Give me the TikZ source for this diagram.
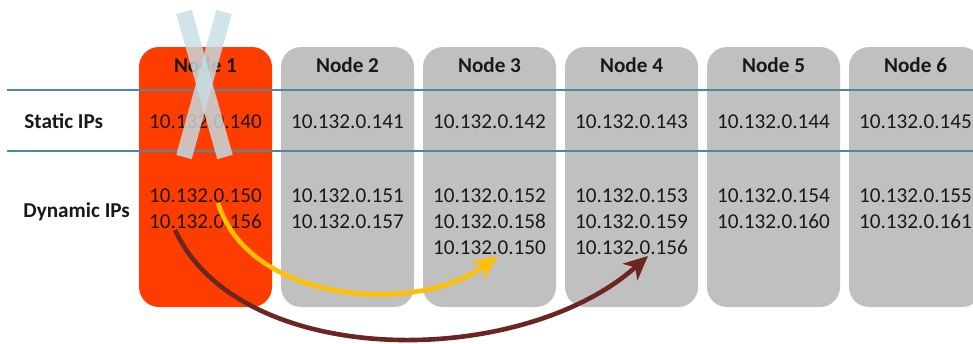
\documentclass[tikz,border=0pt]{standalone}
\usepackage{fontspec}
\setmainfont{Carlito}
\usetikzlibrary{arrows.meta}
\definecolor{boxgray}{HTML}{C0C0C0}
\definecolor{boxred}{HTML}{FF3D00}
\definecolor{rule}{HTML}{4A8AA0}
\definecolor{yel}{HTML}{FFC000}
\definecolor{brn}{HTML}{6B2622}
\definecolor{xmark}{HTML}{C6DEE5}
\tikzset{
  colbox/.style={rounded corners=10pt},
  ip/.style={font=\fontsize{10.6pt}{12.5pt}\selectfont, text=black!90, inner sep=0pt, anchor=base},
  head/.style={font=\bfseries\fontsize{10.6pt}{12.5pt}\selectfont, text=black!90, inner sep=0pt, anchor=base},
  rowlabel/.style={font=\bfseries\fontsize{10.6pt}{12.5pt}\selectfont, text=black!90, inner sep=0pt, anchor=base west},
  hline/.style={draw=rule, line width=1pt},
  movearrow/.style={line width=2.3pt, -{Stealth[length=12pt,width=11pt,inset=3.5pt,fill=#1]}, draw=#1},
  xstroke/.style={draw=xmark, line width=8pt, opacity=0.82}
}
\begin{document}
\begin{tikzpicture}[x=0.5pt,y=-0.5pt]
\useasboundingbox (0,0) rectangle (973,343);
\clip (0,0) rectangle (973,343);
% boxes
\fill[boxred,colbox] (139,47) rectangle (272,307);
\foreach \i in {1,...,5}{
  \fill[boxgray,colbox] ({139+142*\i},47) rectangle ({272+142*\i},307);
}
% rules
\draw[hline] (7,90) -- (973,90);
\draw[hline] (7,151) -- (973,151);
% row labels
\node[rowlabel] (lstat) at (24,128) {Static IPs};
\node[rowlabel] (ldyn) at (23,217) {Dynamic IPs};
% headers
\foreach \i in {1,...,6}{
  \node[head] (h\i) at ({205.5+142*(\i-1)},72) {Node \i};
}
% static
\foreach \i/\s in {1/140,2/141,3/142,4/143,5/144,6/145}{
  \node[ip] (s\i) at ({205.5+142*(\i-1)},128) {10.132.0.\s};
}
% dynamic
\node[ip] (d1a) at (205.5,202) {10.132.0.150};
\node[ip] (d1b) at (205.5,228) {10.132.0.156};
\node[ip] (d2a) at (347.5,202) {10.132.0.151};
\node[ip] (d2b) at (347.5,228) {10.132.0.157};
\node[ip] (d3a) at (489.5,202) {10.132.0.152};
\node[ip] (d3b) at (489.5,228) {10.132.0.158};
\node[ip] (d3c) at (489.5,254) {10.132.0.150};
\node[ip] (d4a) at (631.5,202) {10.132.0.153};
\node[ip] (d4b) at (631.5,228) {10.132.0.159};
\node[ip] (d4c) at (631.5,254) {10.132.0.156};
\node[ip] (d5a) at (773.5,202) {10.132.0.154};
\node[ip] (d5b) at (773.5,228) {10.132.0.160};
\node[ip] (d6a) at (915.5,202) {10.132.0.155};
\node[ip] (d6b) at (915.5,228) {10.132.0.161};
% arrows
\coordinate (ys) at (218,203);
\coordinate (ye) at (497,256);
\coordinate (bs) at (175,230);
\coordinate (be) at (648,256);
\draw[movearrow=yel] (ys) .. controls (250,305) and (420,315) .. (ye);
\draw[movearrow=brn] (bs) .. controls (240,370) and (520,370) .. (be);
% X mark
\draw[xstroke] (184,12) -- (225,157);
\draw[xstroke] (224,12) -- (184,157);
\end{tikzpicture}
\end{document}
